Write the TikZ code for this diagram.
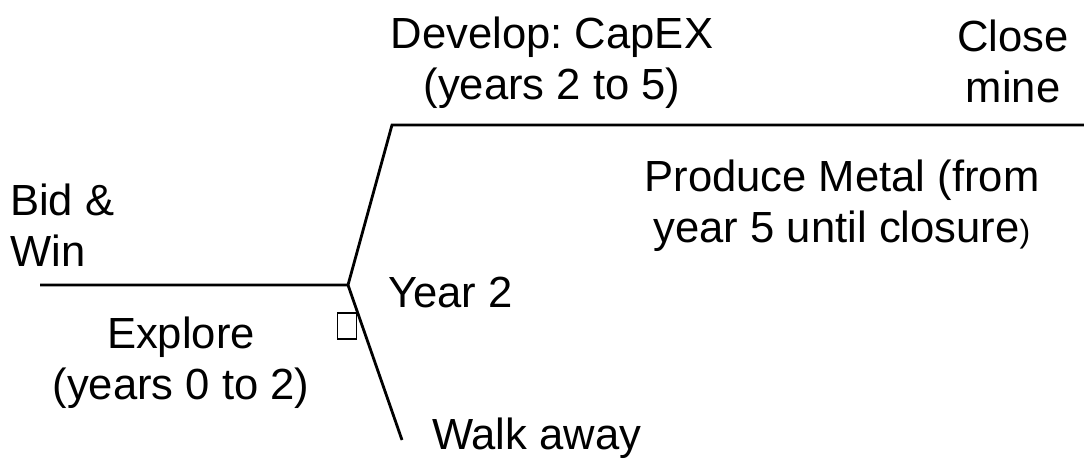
\documentclass[tikz,border=0pt]{standalone}
\usepackage{fontspec}
\setmainfont{Liberation Sans}
\frenchspacing
\begin{document}
\begin{tikzpicture}[x=1pt,y=-1pt,
  lbl/.style={inner sep=0pt,font=\fontsize{43.6}{51}\selectfont,align=center},
  lbll/.style={inner sep=0pt,font=\fontsize{43.6}{51}\selectfont,align=left},
  branch/.style={line width=2.8pt,line cap=butt,line join=miter},
  box/.style={draw,line width=1.2pt,minimum width=19pt,minimum height=26pt,inner sep=0pt}]
\useasboundingbox (0,0) rectangle (1084,462);
\coordinate (start) at (40,285);
\coordinate (fork) at (348,285);
\coordinate (upper) at (392,125);
\coordinate (upend) at (1084,125);
\coordinate (lowend) at (402,440);
\draw[branch] (start) -- (fork) -- (upper) -- (upend);
\draw[branch] (fork) -- (lowend);
\node[box] (sq) at (347,326) {};
\node[lbl] (develop) at (552,63) {Develop: CapEX\\(years 2 to 5)};
\node[lbl] (close) at (1013,61) {Close\\mine};
\node[lbl] (produce) at (842,206) {Produce Metal (from\\year 5 until closure{\fontsize{32}{36}\selectfont)}};
\node[lbll,anchor=west] (bid) at (10,225) {Bid \&\\Win};
\node[lbll,anchor=west] (year) at (388,292) {Year 2};
\node[lbl] (explore) at (181,363) {Explore\\(years 0 to 2)};
\node[lbll,anchor=west] (walk) at (432,438) {Walk away};
\end{tikzpicture}
\end{document}
